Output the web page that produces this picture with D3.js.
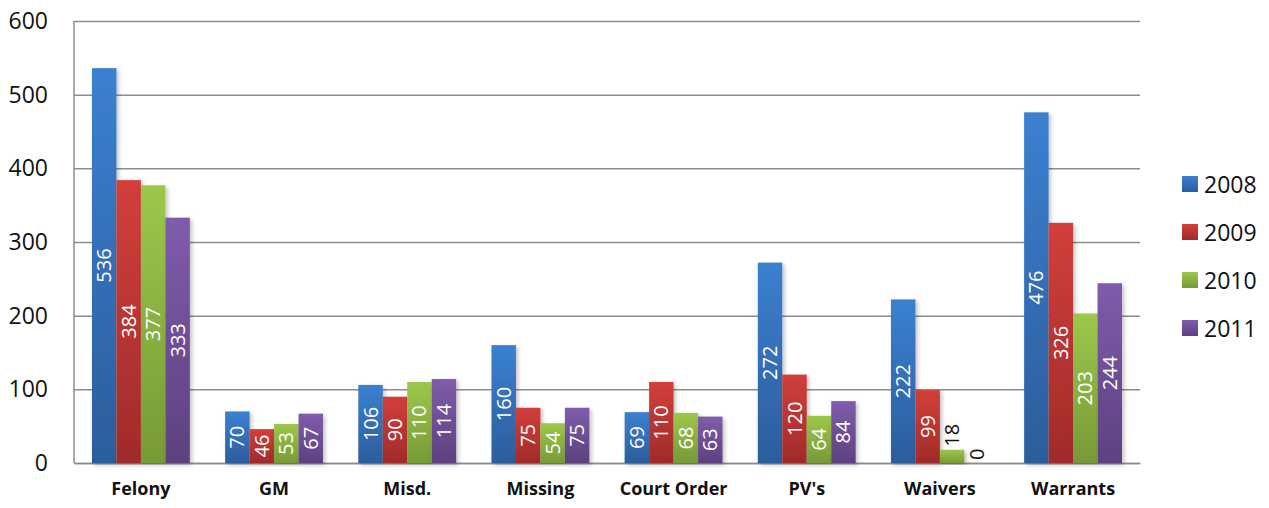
<!DOCTYPE html>
<html>
<head>
<meta charset="utf-8">
<script src="https://cdn.jsdelivr.net/npm/d3@7"></script>
<style>
  body { margin: 0; background: #fff; }
  svg { font-family: "Open Sans", "Noto Sans", sans-serif; }
</style>
</head>
<body>
<div id="chart-area"></div>
<script>
const categories = ["Felony", "GM", "Misd.", "Missing", "Court Order", "PV's", "Waivers", "Warrants"]
const years = ["2008", "2009", "2010", "2011"]
const values2008 = [536, 70, 106, 160, 69, 272, 222, 476]
const values2009 = [384, 46, 90, 75, 110, 120, 99, 326]
const values2010 = [377, 53, 110, 54, 68, 64, 18, 203]
const values2011 = [333, 67, 114, 75, 63, 84, 0, 244]
const yTicks = [0, 100, 200, 300, 400, 500, 600]

const series = [values2008, values2009, values2010, values2011]
const colors = [
  { top: "#3b80d0", bottom: "#2c5d9c" },
  { top: "#d23f3b", bottom: "#a02b29" },
  { top: "#9dc74b", bottom: "#779a37" },
  { top: "#7f5cab", bottom: "#5d4180" }
]

const MARGIN = { LEFT: 74, RIGHT: 129, TOP: 21, BOTTOM: 45 }
const WIDTH = 1269 - MARGIN.LEFT - MARGIN.RIGHT
const HEIGHT = 508 - MARGIN.TOP - MARGIN.BOTTOM

const svg = d3.select("#chart-area").append("svg")
  .attr("width", 1269)
  .attr("height", 508)

const defs = svg.append("defs")
colors.forEach((c, i) => {
  const grad = defs.append("linearGradient")
    .attr("id", "grad" + i)
    .attr("x1", 0).attr("y1", 0).attr("x2", 0).attr("y2", 1)
  grad.append("stop").attr("offset", "0%").attr("stop-color", c.top)
  grad.append("stop").attr("offset", "100%").attr("stop-color", c.bottom)
})
const shadow = defs.append("filter").attr("id", "shadow")
  .attr("x", "-20%").attr("y", "-5%").attr("width", "150%").attr("height", "115%")
shadow.append("feDropShadow")
  .attr("dx", 2).attr("dy", 2).attr("stdDeviation", 2)
  .attr("flood-color", "#000").attr("flood-opacity", 0.25)

const g = svg.append("g")
  .attr("transform", `translate(${MARGIN.LEFT}, ${MARGIN.TOP})`)

const x0 = d3.scaleBand()
  .domain(categories)
  .range([0, WIDTH])
  .paddingInner(0.265)
  .paddingOuter(0.135)

const x1 = d3.scaleBand()
  .domain(years)
  .range([0, x0.bandwidth()])

const y = d3.scaleLinear()
  .domain([0, 600])
  .range([HEIGHT, 0])

// gridlines
g.append("g")
  .attr("class", "grid")
  .call(d3.axisLeft(y).tickValues(yTicks).tickSize(-WIDTH).tickFormat(""))
  .call(s => s.select(".domain").remove())
  .selectAll("line")
    .attr("stroke", "#8c8c8c")
    .attr("stroke-width", 1.5)

// left axis line + labels
g.append("line")
  .attr("x1", 0).attr("x2", 0).attr("y1", 0).attr("y2", HEIGHT)
  .attr("stroke", "#8c8c8c").attr("stroke-width", 1.5)

g.append("g")
  .attr("class", "y axis")
  .call(d3.axisLeft(y).tickValues(yTicks).tickSize(0).tickPadding(26))
  .call(s => s.select(".domain").remove())
  .selectAll("text")
    .attr("font-size", "23px")
    .attr("fill", "#111")
    .attr("font-family", "\"Open Sans\", sans-serif")

// x axis
g.append("g")
  .attr("class", "x axis")
  .attr("transform", `translate(0, ${HEIGHT})`)
  .call(d3.axisBottom(x0).tickSize(0).tickPadding(19))
  .call(s => s.select(".domain").attr("stroke", "#8c8c8c").attr("stroke-width", 1.5))
  .selectAll("text")
    .attr("font-size", "18px")
    .attr("font-weight", "bold")
    .attr("fill", "#111")
    .attr("font-family", "\"Open Sans\", sans-serif")

// bars
const groups = g.selectAll(".cat")
  .data(categories)
  .enter().append("g")
  .attr("class", "cat")
  .attr("transform", d => `translate(${x0(d)}, 0)`)

const barData = ci => years.map((yr, si) => ({ year: yr, si, value: series[si][ci] }))
const fits = d => (HEIGHT - y(d.value)) > 30

groups.each(function (c, ci) {
  const grp = d3.select(this)
  const data = barData(ci)

  grp.selectAll("rect")
    .data(data)
    .enter().append("rect")
    .attr("x", d => x1(d.year))
    .attr("y", d => y(d.value))
    .attr("width", x1.bandwidth())
    .attr("height", d => HEIGHT - y(d.value))
    .attr("fill", d => `url(#grad${d.si})`)
    .attr("filter", "url(#shadow)")

  grp.selectAll("text")
    .data(data)
    .enter().append("text")
    .attr("transform", d => {
      const cx = x1(d.year) + x1.bandwidth() / 2
      const h = HEIGHT - y(d.value)
      const cy = fits(d) ? y(d.value) + h / 2 : y(d.value) - 3
      return `translate(${cx}, ${cy}) rotate(-90)`
    })
    .attr("text-anchor", d => fits(d) ? "middle" : "start")
    .attr("dy", "0.35em")
    .attr("font-size", "20px")
    .attr("fill", d => fits(d) ? "#fff" : "#111")
    .text(d => d.value)
})

// legend
const legend = svg.append("g")
  .attr("transform", "translate(1182, 184)")

years.forEach((yr, i) => {
  const row = legend.append("g").attr("transform", `translate(0, ${i * 48})`)
  row.append("rect")
    .attr("x", 0).attr("y", -8)
    .attr("width", 16).attr("height", 16)
    .attr("fill", `url(#grad${i})`)
  row.append("text")
    .attr("x", 22).attr("y", 1)
    .attr("dy", "0.35em")
    .attr("font-size", "23px")
    .attr("fill", "#111")
    .text(yr)
})
</script>
</body>
</html>
